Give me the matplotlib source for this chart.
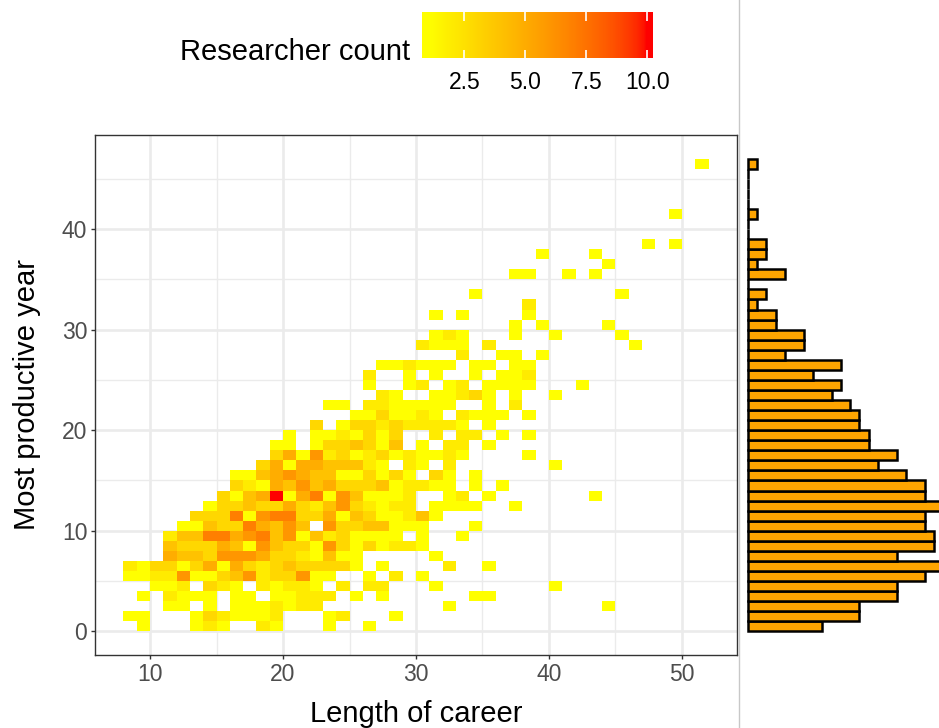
import numpy as np
import matplotlib
matplotlib.use("Agg")
import matplotlib.pyplot as plt
from matplotlib.colors import ListedColormap, Normalize
from matplotlib.lines import Line2D

plt.rcParams["font.family"] = ["Liberation Sans", "DejaVu Sans"]

# career length bins run from 8 to 51, productive year rows from 0 to 46
x_first = 8
x_last = 51
# one string per productive year: "first career length:counts", '.' = empty, 'X' = 10
tile_rows = [
    "9:1...121..21...1..1",
    "8:11...1321112...12...1",
    "11:11.1.1112122.........1...........1",
    "9:1.2111.11.11222.1.1......11",
    "10:112.321.21221.2.22...1........1",
    "8:1122611346233611..1.2.1",
    "8:213313515323433331.1....2..1",
    "11:544366653321411.....1",
    "11:43335416433163131221",
    "11:244775674614231111.1..1",
    "12:1143375464.63344111...1",
    "13:3337167733514311241",
    "14:1334335324632122.1111..1",
    "15:3145X1571641112..12.1.......1",
    "16:32154645333412211.1.1",
    "16:11456544113131.31.1",
    "18:3515544421.21.2.......1",
    "19:351623123121121....1",
    "19:11.1334314.1.22.1",
    "20:1.1121313..2.22.1.1",
    "22:3.1332322221.1",
    "25:1131121.2111.1",
    "23:11.2211111..1.2",
    "27:21..11231.1..1",
    "26:1..12.12.1111...1",
    "26:2..1.1..1.112",
    "27:112111.11.11",
    "33:2..11.1",
    "30:2111.2..........1",
    "31:121...1..1....1",
    "37:1.1....1",
    "31:1.1....1",
    "38:2",
    "34:1..........1",
    "",
    "37:11..1.1",
    "44:1",
    "39:1...1",
    "47:1.1",
    "",
    "",
    "49:1",
    "",
    "",
    "",
    "",
    "51:1",
]
x_ticks = [10, 20, 30, 40, 50]
y_ticks = [0, 10, 20, 30, 40]
count_ticks = [2.5, 5.0, 7.5, 10.0]
count_labels = ["2.5", "5.0", "7.5", "10.0"]

grid = np.zeros((len(tile_rows), x_last - x_first + 1))
for yr, row in enumerate(tile_rows):
    if not row:
        continue
    start, cells = row.split(":")
    for k, ch in enumerate(cells):
        if ch != ".":
            grid[yr, int(start) - x_first + k] = 10 if ch == "X" else int(ch)
# marginal: number of filled tiles per productive year
marginal = (grid > 0).sum(axis=1)


# yellow -> red gradient interpolated in CIELAB, like ggplot's scale_fill_gradient
M = np.array([[0.4124564, 0.3575761, 0.1804375],
              [0.2126729, 0.7151522, 0.0721750],
              [0.0193339, 0.1191920, 0.9503041]])
WHITE = np.array([0.95047, 1.0, 1.08883])


def to_lab(rgb):
    c = np.asarray(rgb, float)
    lin = np.where(c <= 0.04045, c / 12.92, ((c + 0.055) / 1.055) ** 2.4)
    xyz = M @ lin / WHITE
    f = np.where(xyz > (6 / 29) ** 3, np.cbrt(xyz), xyz / (3 * (6 / 29) ** 2) + 4 / 29)
    return np.array([116 * f[1] - 16, 500 * (f[0] - f[1]), 200 * (f[1] - f[2])])


def from_lab(lab):
    L, a, b = lab
    fy = (L + 16) / 116
    f = np.array([fy + a / 500, fy, fy - b / 200])
    xyz = np.where(f > 6 / 29, f ** 3, 3 * (6 / 29) ** 2 * (f - 4 / 29)) * WHITE
    lin = np.linalg.solve(M, xyz)
    lin = np.clip(lin, 0, 1)
    c = np.where(lin > 0.0031308, 1.055 * lin ** (1 / 2.4) - 0.055, 12.92 * lin)
    return np.clip(c, 0, 1)


lo_lab, hi_lab = to_lab([1, 1, 0]), to_lab([1, 0, 0])
cmap = ListedColormap([from_lab(lo_lab + t * (hi_lab - lo_lab)) for t in np.linspace(0, 1, 256)])
norm = Normalize(vmin=1, vmax=10)

fig = plt.figure(figsize=(9.39, 7.28), dpi=100)
W, H = 939, 728

# main heatmap
ax = fig.add_axes([95 / W, 73 / H, 642 / W, 520 / H])
x_edges = np.arange(x_first, x_last + 2)
y_edges = np.arange(len(tile_rows) + 1)
ax.pcolormesh(x_edges, y_edges, np.ma.masked_equal(grid, 0), cmap=cmap, norm=norm,
              edgecolors="none", zorder=2)
ax.set_xlim(5.86, 54.14)
ax.set_ylim(-2.35, 49.35)
ax.set_xticks(x_ticks)
ax.set_yticks(y_ticks)
ax.set_xticks([15, 25, 35, 45], minor=True)
ax.set_yticks([5, 15, 25, 35, 45], minor=True)
ax.set_axisbelow(True)
ax.grid(which="major", color="#EBEBEB", lw=1.9)
ax.grid(which="minor", color="#EBEBEB", lw=1.0)
ax.tick_params(which="major", length=3, width=1, color="#333333", labelsize=16.5,
               labelcolor="#4D4D4D", pad=2.5)
ax.tick_params(which="minor", length=0)
for sp in ax.spines.values():
    sp.set_color("#333333")
    sp.set_linewidth(1.0)

fig.text(416 / W, 1 - 722 / H, "Length of career", ha="center", va="baseline", size=21)
fig.text(27 / W, 1 - 395 / H, "Most productive year", ha="center", va="center",
         rotation=90, size=21)

# marginal histogram on the right
mx = fig.add_axes([746 / W, 73 / H, (W - 746) / W, 520 / H])
years = np.arange(len(tile_rows))
mx.barh(years, marginal, height=1, align="edge", color="#FFA500",
        edgecolor="black", linewidth=1.8)
mx.set_xlim(-0.2, 20.55)
mx.set_ylim(-2.35, 49.35)
mx.axis("off")

fig.add_artist(Line2D([738.5 / W, 738.5 / W], [0, 1], color="#C8C8C8", lw=1))

# colour bar legend
lo_b = 1 - 9 * 0.5 / 19
hi_b = 10 + 9 * 0.5 / 19
cax = fig.add_axes([422 / W, 1 - 58.3 / H, 231 / W, 46 / H])
grad = np.linspace(lo_b, hi_b, 300).reshape(1, -1)
cax.imshow(grad, cmap=cmap, norm=norm, aspect="auto", extent=[lo_b, hi_b, 0, 1])
cax.vlines(count_ticks, 0, 0.18, color="white", lw=1.2)
cax.vlines(count_ticks, 0.82, 1, color="white", lw=1.2)
cax.set_xlim(lo_b, hi_b)
cax.set_ylim(0, 1)
cax.set_yticks([])
cax.set_xticks(count_ticks, labels=count_labels)
cax.tick_params(axis="x", length=0, pad=9, labelsize=16.5, labelcolor="black")
for sp in cax.spines.values():
    sp.set_visible(False)

fig.text(410 / W, 1 - 60 / H, "Researcher count", ha="right", va="baseline", size=21)

fig.savefig("out.png", dpi=100)
